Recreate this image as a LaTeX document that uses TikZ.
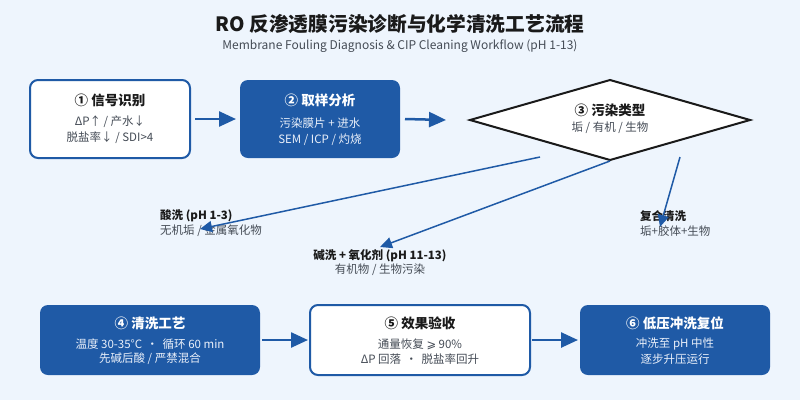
\documentclass[tikz,border=0pt]{standalone}
\usepackage{fontspec}
\setmainfont{Noto Sans CJK SC}
\newfontfamily\symfont{DejaVu Sans}
\usetikzlibrary{shapes.geometric,arrows.meta}
\definecolor{bg}{HTML}{EEF5FD}
\definecolor{pblue}{HTML}{1F5AA6}
\definecolor{tdark}{HTML}{1A1A1A}
\definecolor{tgray}{HTML}{444B55}
\definecolor{tlight}{HTML}{EAF0FA}
\begin{document}
\begin{tikzpicture}[x=1pt,y=-1pt,
  boxw/.style={draw=pblue, line width=2pt, fill=white, rounded corners=8pt, inner sep=0pt, outer sep=0pt},
  boxb/.style={fill=pblue, rounded corners=8pt, inner sep=0pt, outer sep=0pt},
  topsz/.style={minimum width=160pt, minimum height=78pt},
  botsz/.style={minimum width=220pt, minimum height=70pt},
  ttl/.style={font=\fontsize{13.5}{16}\selectfont\bfseries, text=tdark, inner sep=0pt},
  ttlw/.style={font=\fontsize{13.5}{16}\selectfont\bfseries, text=white, inner sep=0pt},
  bodyg/.style={font=\fontsize{11.5}{14}\selectfont, text=tgray, inner sep=0pt},
  bodyw/.style={font=\fontsize{11.5}{14}\selectfont, text=tlight, inner sep=0pt},
  lblb/.style={font=\fontsize{11.5}{13}\selectfont\bfseries, text=tdark, inner sep=0pt},
  lblg/.style={font=\fontsize{11.5}{13}\selectfont, text=tgray, inner sep=0pt},
  flow/.style={draw=pblue, line width=2.5pt, -{Triangle[length=17pt,width=15pt]}},
  branch/.style={draw=pblue, line width=1.5pt, -{Triangle[length=12pt,width=11pt]}}
]
\fill[bg] (0,0) rectangle (800,400);
\useasboundingbox (0,0) rectangle (800,400);

% title
\node[font=\fontsize{19.7}{23}\selectfont\bfseries, text=tdark, inner sep=0pt] (title) at (400,24) {RO 反渗透膜污染诊断与化学清洗工艺流程};
\node[font=\fontsize{12}{14}\selectfont, text=tgray, inner sep=0pt] (subtitle) at (400,46) {Membrane Fouling Diagnosis \& CIP Cleaning Workflow (pH 1-13)};

% top row
\node[boxw, topsz] (b1) at (110,119) {};
\node[ttl] (b1t) at (110,100) {① 信号识别};
\node[bodyg] (b1a) at (110,122) {ΔP↑ / 产水↓};
\node[bodyg] (b1b) at (110,138) {脱盐率↓ / SDI>4};

\node[boxb, topsz] (b2) at (320,119) {};
\node[ttlw] (b2t) at (320,100) {② 取样分析};
\node[bodyw] (b2a) at (320,123) {污染膜片 + 进水};
\node[bodyw] (b2b) at (320,140) {SEM / ICP / 灼烧};

\node[diamond, draw=tdark, line width=2pt, fill=white, minimum width=280pt, minimum height=80pt, inner sep=0pt, outer sep=0pt] (d) at (610,120) {};
\node[ttl] (dt) at (610,110) {③ 污染类型};
\node[bodyg] (da) at (610,128) {垢 / 有机 / 生物};

\draw[flow] ([xshift=5pt]b1.east) -- ([xshift=-4pt]b2.west);
\draw[flow] ([xshift=5pt]b2.east) -- ([xshift=-24pt]d.west);

% branches
\node[lblb, anchor=west] (acid) at (160,216) {酸洗 (pH 1-3)};
\node[lblg, anchor=west] (acidd) at (160,231) {无机垢 / 金属氧化物};
\node[lblb] (alk) at (380,256) {碱洗 + 氧化剂 (pH 11-13)};
\node[lblg] (alkd) at (380,270) {有机物 / 生物污染};
\node[lblb, anchor=west] (cmp) at (640,216) {复合清洗};
\node[lblg, anchor=west] (cmpd) at (640,231) {垢+胶体+生物};

\coordinate (s1) at (540,157);
\coordinate (s2) at (610,161);
\coordinate (s3) at (680,157);
\coordinate (e1) at (200,229);
\coordinate (e2) at (380,247);
\coordinate (e3) at (660,227);
\draw[branch] (s1) -- (e1);
\draw[branch] (s2) -- (e2);
\draw[branch] (s3) -- (e3);

% bottom row
\node[boxb, botsz] (b4) at (150,340) {};
\node[ttlw] (b4t) at (150,323) {④ 清洗工艺};
\node[bodyw] (b4a) at (150,344) {温度 30-35°C \,·\, 循环 60 min};
\node[bodyw] (b4b) at (150,359) {先碱后酸 / 严禁混合};

\node[boxw, botsz] (b5) at (420,340) {};
\node[ttl] (b5t) at (420,323) {⑤ 效果验收};
\node[bodyg] (b5a) at (420,344) {通量恢复 {\symfont ⩾} 90\%};
\node[bodyg] (b5b) at (420,359) {ΔP 回落 \,·\, 脱盐率回升};

\node[boxb, minimum width=190pt, minimum height=70pt] (b6) at (675,340) {};
\node[ttlw] (b6t) at (675,323) {⑥ 低压冲洗复位};
\node[bodyw] (b6a) at (675,344) {冲洗至 pH 中性};
\node[bodyw] (b6b) at (675,359) {逐步升压运行};

\draw[flow] ([xshift=2pt]b4.east) -- ([xshift=-2pt]b5.west);
\draw[flow] ([xshift=2pt]b5.east) -- ([xshift=-2pt]b6.west);
\end{tikzpicture}
\end{document}
